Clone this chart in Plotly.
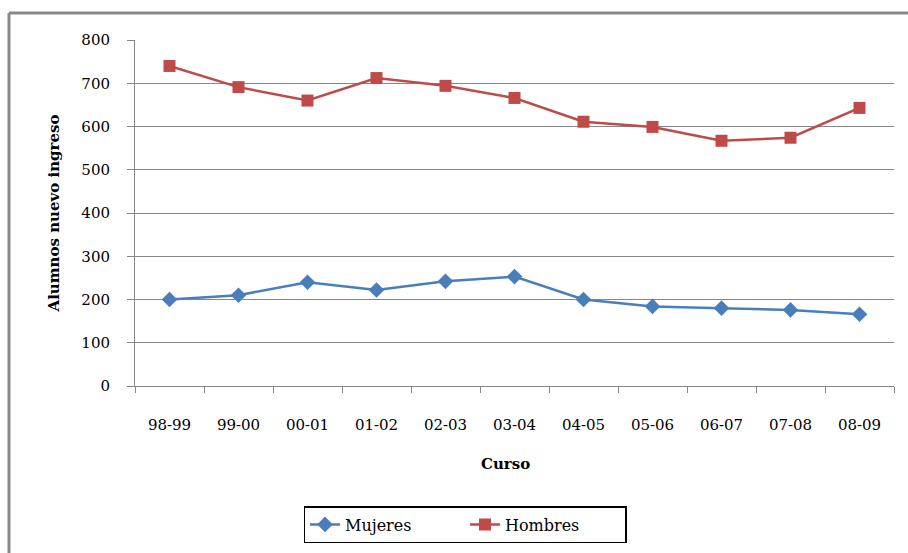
import plotly.graph_objects as go

# Academic years (x categories)
cursos = ["98-99", "99-00", "00-01", "01-02", "02-03", "03-04",
          "04-05", "05-06", "06-07", "07-08", "08-09"]

# New-intake students per year
mujeres = [200, 210, 240, 222, 242, 253, 200, 184, 180, 176, 166]
hombres = [740, 691, 660, 712, 694, 666, 611, 599, 567, 574, 643]

y_ticks = [0, 100, 200, 300, 400, 500, 600, 700, 800]

FONT = "DejaVu Serif"
GRID = "#878787"
BLUE = "#4A7EBB"
RED = "#BE4B48"

W, H = 908, 553
ML, MR, MT, MB = 135, 14, 40, 166
PW, PH = W - ML - MR, H - MT - MB


def px_x(x):
    return (x - ML) / PW


def px_y(y):
    return (H - MB - y) / PH


fig = go.Figure()
fig.add_trace(go.Scatter(
    x=cursos, y=mujeres, name="Mujeres", mode="lines+markers",
    line=dict(color=BLUE, width=2.5),
    marker=dict(symbol="diamond", size=12, color=BLUE),
))
fig.add_trace(go.Scatter(
    x=cursos, y=hombres, name="Hombres", mode="lines+markers",
    line=dict(color=RED, width=2.5),
    marker=dict(symbol="square", size=12, color=RED),
))

tick_font = dict(family=FONT, size=15, color="black")

fig.update_layout(
    width=W, height=H,
    margin=dict(l=ML, r=MR, t=MT, b=MB),
    paper_bgcolor="white", plot_bgcolor="white",
    font=dict(family=FONT, size=15, color="black"),
    showlegend=True,
    legend=dict(
        orientation="h", xanchor="center", yanchor="top",
        x=px_x(465), y=px_y(506),
        bordercolor="black", borderwidth=1.5,
        font=dict(family=FONT, size=16, color="black"),
        entrywidth=115, traceorder="normal",
    ),
    xaxis=dict(
        type="category", range=[-0.5, len(cursos) - 0.5],
        showgrid=False, showline=True, linecolor=GRID, linewidth=1,
        ticks="outside", tickson="boundaries", ticklen=6, tickcolor=GRID,
        ticklabelstandoff=25, zeroline=False, tickfont=tick_font,
    ),
    yaxis=dict(
        range=[0, 800], tickvals=y_ticks,
        showgrid=True, gridcolor=GRID, gridwidth=1,
        showline=True, linecolor=GRID, linewidth=1,
        ticks="outside", ticklen=7, tickcolor=GRID,
        ticklabelstandoff=14, zeroline=False, tickfont=tick_font,
    ),
    annotations=[
        dict(text="<b>Alumnos nuevo ingreso</b>", textangle=-90,
             xref="paper", yref="paper", x=px_x(54), y=px_y(214),
             xanchor="center", yanchor="middle",
             showarrow=False, font=dict(family=FONT, size=15, color="black")),
        dict(text="<b>Curso</b>",
             xref="paper", yref="paper", x=px_x(505), y=px_y(465),
             xanchor="center", yanchor="middle",
             showarrow=False, font=dict(family=FONT, size=15, color="black")),
    ],
    shapes=[
        dict(type="line", xref="paper", yref="paper",
             x0=px_x(9), x1=px_x(915), y0=px_y(13), y1=px_y(13),
             line=dict(color=GRID, width=3)),
        dict(type="line", xref="paper", yref="paper",
             x0=px_x(9), x1=px_x(9), y0=px_y(13), y1=px_y(560),
             line=dict(color=GRID, width=3)),
    ],
)

fig.write_html("out.html")
